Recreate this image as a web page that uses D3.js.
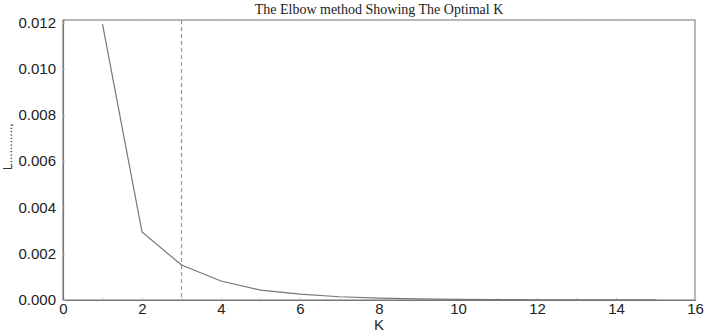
<!DOCTYPE html>
<html><head><meta charset="utf-8">
<script src="https://cdn.jsdelivr.net/npm/d3@7"></script>
<style>body{margin:0;background:#fff}svg{display:block}</style>
</head><body>
<svg id="c" width="704" height="335"></svg>
<script>
const kValues = [1,2,3,4,5,6,7,8,9,10,11,12,13,14,15];
const distortion = [0.01192,0.00294,0.00151,0.00082,0.00043,0.00025,0.00014,0.00008,0.00005,0.00003,0.00002,0.00001,0.00001,0.000005,0.000003];
const xTicks = [0,2,4,6,8,10,12,14,16];
const yTicks = [0,0.002,0.004,0.006,0.008,0.010,0.012];
const optimalK = 3;
const title = "The Elbow method Showing The Optimal K";
const xLabel = "K";
const yLabel = "L...........,";

const svg = d3.select("#c");
const m = {l:63, r:9, t:20, b:35};
const W = 704, H = 335;
const x = d3.scaleLinear().domain([0,16]).range([m.l, W-m.r]);
const y = d3.scaleLinear().domain([0,0.0121]).range([H-m.b, m.t]);

// frame
svg.append("rect").attr("x",m.l).attr("y",m.t)
  .attr("width",W-m.r-m.l).attr("height",H-m.b-m.t)
  .attr("fill","none").attr("stroke","#8a8a8a").attr("stroke-width",1.2);

// axes
const xa = svg.append("g").attr("transform",`translate(0,${H-m.b})`)
  .call(d3.axisBottom(x).tickValues(d3.range(0,17)).tickSize(-2).tickPadding(5)
    .tickFormat(d => xTicks.includes(d) ? d : ""));
const ya = svg.append("g").attr("transform",`translate(${m.l},0)`)
  .call(d3.axisLeft(y).tickValues(yTicks).tickSize(-2).tickPadding(7).tickFormat(d3.format(".3f")));
[xa,ya].forEach(g=>{
  g.select(".domain").attr("stroke","#777").attr("stroke-width",1.2);
  g.selectAll(".tick line").attr("stroke","#bbb");
  g.selectAll("text").attr("font-family","Liberation Sans, Arial, sans-serif")
    .attr("font-size",15).attr("fill","#222");
});
xa.selectAll("text").attr("dy","0.6em");

// top ticks
svg.append("g").attr("transform",`translate(0,${m.t})`)
  .call(d3.axisTop(x).tickValues(d3.range(1,16)).tickSize(-2).tickFormat(""))
  .call(g=>{g.select(".domain").remove(); g.selectAll("line").attr("stroke","#ccc");});

// dashed optimal K
svg.append("line").attr("x1",x(optimalK)).attr("x2",x(optimalK))
  .attr("y1",m.t).attr("y2",H-m.b)
  .attr("stroke","#999").attr("stroke-width",1.2).attr("stroke-dasharray","4,3");

// line
const line = d3.line().x((d,i)=>x(kValues[i])).y(d=>y(d));
svg.append("path").datum(distortion).attr("d",line)
  .attr("fill","none").attr("stroke","#777").attr("stroke-width",1.2);

// title & labels
svg.append("text").attr("x",(m.l+W-m.r)/2).attr("y",14).attr("text-anchor","middle")
  .attr("font-family","Liberation Serif, Times New Roman, serif").attr("font-size",14)
  .attr("fill","#222").text(title);
svg.append("text").attr("x",x(8)).attr("y",330).attr("text-anchor","middle")
  .attr("font-family","Liberation Sans, Arial, sans-serif").attr("font-size",15)
  .attr("fill","#222").text(xLabel);
svg.append("text").attr("transform","translate(12,170) rotate(-90)")
  .attr("font-family","Liberation Sans, Arial, sans-serif").attr("font-size",12)
  .attr("fill","#333").text(yLabel);
</script>
</body></html>
